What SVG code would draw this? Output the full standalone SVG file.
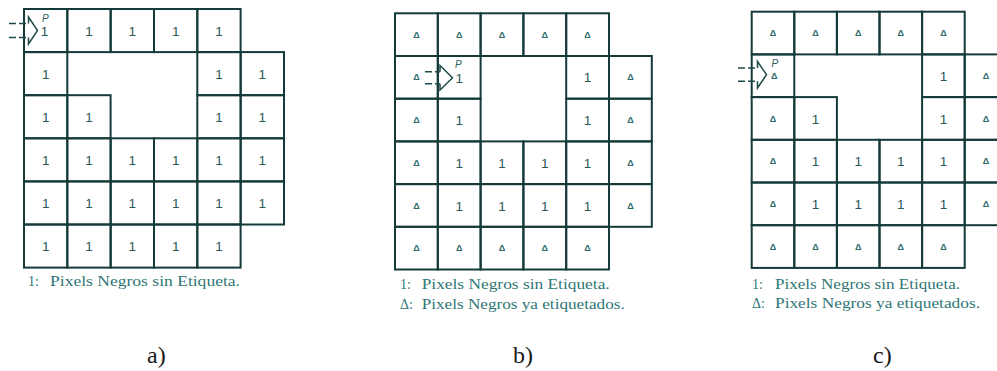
<svg xmlns="http://www.w3.org/2000/svg" width="997" height="371" viewBox="0 0 997 371">
<style>
.g rect{fill:none;stroke:#143a3a;stroke-width:2}
.n{font-family:"Liberation Sans",Arial,sans-serif;font-size:13.5px;fill:#2a5858;text-anchor:middle}
.t{font-family:"Liberation Sans","DejaVu Sans",sans-serif;font-size:9px;font-weight:bold;fill:#2e6a6a;text-anchor:middle}
.p{font-family:"Liberation Sans",Arial,sans-serif;font-size:10px;font-style:italic;fill:#2e5e5e}
.cap{font-family:"Liberation Serif","Times New Roman",serif;font-size:14px;fill:#2f7676}
.lab{font-family:"Liberation Serif","Times New Roman",serif;font-size:24px;fill:#1a1a1a}
.arr{fill:none;stroke:#1f4a4a;stroke-width:1.5}
.dash{stroke-dasharray:7 3}
</style>
<rect width="997" height="371" fill="#ffffff"/>

<!-- Panel a -->
<g id="panel-a" class="g">
<g id="a-r0c0"><rect x="24" y="9" width="43.3" height="43.1"/><text class="p" x="42" y="21.5">P</text><text class="n" x="44.5" y="36.3">1</text></g>
<g id="a-r0c1"><rect x="67.3" y="9" width="43.3" height="43.1"/><text class="n" x="89" y="35.6">1</text></g>
<g id="a-r0c2"><rect x="110.7" y="9" width="43.3" height="43.1"/><text class="n" x="132.3" y="35.6">1</text></g>
<g id="a-r0c3"><rect x="154" y="9" width="43.3" height="43.1"/><text class="n" x="175.7" y="35.6">1</text></g>
<g id="a-r0c4"><rect x="197.3" y="9" width="43.3" height="43.1"/><text class="n" x="219" y="35.6">1</text></g>
<g id="a-r1c0"><rect x="24" y="52.1" width="43.3" height="43.1"/><text class="n" x="45.7" y="78.7">1</text></g>
<g id="a-r1c4"><rect x="197.3" y="52.1" width="43.3" height="43.1"/><text class="n" x="219" y="78.7">1</text></g>
<g id="a-r1c5"><rect x="240.7" y="52.1" width="43.3" height="43.1"/><text class="n" x="262.3" y="78.7">1</text></g>
<g id="a-r2c0"><rect x="24" y="95.2" width="43.3" height="43.1"/><text class="n" x="45.7" y="121.8">1</text></g>
<g id="a-r2c1"><rect x="67.3" y="95.2" width="43.3" height="43.1"/><text class="n" x="89" y="121.8">1</text></g>
<g id="a-r2c4"><rect x="197.3" y="95.2" width="43.3" height="43.1"/><text class="n" x="219" y="121.8">1</text></g>
<g id="a-r2c5"><rect x="240.7" y="95.2" width="43.3" height="43.1"/><text class="n" x="262.3" y="121.8">1</text></g>
<g id="a-r3c0"><rect x="24" y="138.3" width="43.3" height="43.1"/><text class="n" x="45.7" y="164.9">1</text></g>
<g id="a-r3c1"><rect x="67.3" y="138.3" width="43.3" height="43.1"/><text class="n" x="89" y="164.9">1</text></g>
<g id="a-r3c2"><rect x="110.7" y="138.3" width="43.3" height="43.1"/><text class="n" x="132.3" y="164.9">1</text></g>
<g id="a-r3c3"><rect x="154" y="138.3" width="43.3" height="43.1"/><text class="n" x="175.7" y="164.9">1</text></g>
<g id="a-r3c4"><rect x="197.3" y="138.3" width="43.3" height="43.1"/><text class="n" x="219" y="164.9">1</text></g>
<g id="a-r3c5"><rect x="240.7" y="138.3" width="43.3" height="43.1"/><text class="n" x="262.3" y="164.9">1</text></g>
<g id="a-r4c0"><rect x="24" y="181.4" width="43.3" height="43.1"/><text class="n" x="45.7" y="208">1</text></g>
<g id="a-r4c1"><rect x="67.3" y="181.4" width="43.3" height="43.1"/><text class="n" x="89" y="208">1</text></g>
<g id="a-r4c2"><rect x="110.7" y="181.4" width="43.3" height="43.1"/><text class="n" x="132.3" y="208">1</text></g>
<g id="a-r4c3"><rect x="154" y="181.4" width="43.3" height="43.1"/><text class="n" x="175.7" y="208">1</text></g>
<g id="a-r4c4"><rect x="197.3" y="181.4" width="43.3" height="43.1"/><text class="n" x="219" y="208">1</text></g>
<g id="a-r4c5"><rect x="240.7" y="181.4" width="43.3" height="43.1"/><text class="n" x="262.3" y="208">1</text></g>
<g id="a-r5c0"><rect x="24" y="224.5" width="43.3" height="43.1"/><text class="n" x="45.7" y="251.1">1</text></g>
<g id="a-r5c1"><rect x="67.3" y="224.5" width="43.3" height="43.1"/><text class="n" x="89" y="251.1">1</text></g>
<g id="a-r5c2"><rect x="110.7" y="224.5" width="43.3" height="43.1"/><text class="n" x="132.3" y="251.1">1</text></g>
<g id="a-r5c3"><rect x="154" y="224.5" width="43.3" height="43.1"/><text class="n" x="175.7" y="251.1">1</text></g>
<g id="a-r5c4"><rect x="197.3" y="224.5" width="43.3" height="43.1"/><text class="n" x="219" y="251.1">1</text></g>
</g>
<text class="cap" x="28" y="285.5">1:<tspan x="50" textLength="190" lengthAdjust="spacingAndGlyphs">Pixels Negros sin Etiqueta.</tspan></text>
<text class="lab" x="147" y="363">a)</text>

<!-- Panel b -->
<g id="panel-b" class="g">
<g id="b-r0c0"><rect x="395" y="13.3" width="42.8" height="42.7"/><text class="t" x="416.4" y="37.7">Δ</text></g>
<g id="b-r0c1"><rect x="437.8" y="13.3" width="42.8" height="42.7"/><text class="t" x="459.2" y="37.7">Δ</text></g>
<g id="b-r0c2"><rect x="480.6" y="13.3" width="42.8" height="42.7"/><text class="t" x="502" y="37.7">Δ</text></g>
<g id="b-r0c3"><rect x="523.4" y="13.3" width="42.8" height="42.7"/><text class="t" x="544.8" y="37.7">Δ</text></g>
<g id="b-r0c4"><rect x="566.2" y="13.3" width="42.8" height="42.7"/><text class="t" x="587.6" y="37.7">Δ</text></g>
<g id="b-r1c0"><rect x="395" y="56" width="42.8" height="42.7"/><text class="t" x="416.4" y="80.4">Δ</text></g>
<g id="b-r1c1"><rect x="437.8" y="56" width="42.8" height="42.7"/><text class="p" x="455" y="67.5">P</text><text class="n" x="459.2" y="82.8">1</text></g>
<g id="b-r1c4"><rect x="566.2" y="56" width="42.8" height="42.7"/><text class="n" x="587.6" y="82.4">1</text></g>
<g id="b-r1c5"><rect x="609" y="56" width="42.8" height="42.7"/><text class="t" x="630.4" y="80.4">Δ</text></g>
<g id="b-r2c0"><rect x="395" y="98.7" width="42.8" height="42.7"/><text class="t" x="416.4" y="123.1">Δ</text></g>
<g id="b-r2c1"><rect x="437.8" y="98.7" width="42.8" height="42.7"/><text class="n" x="459.2" y="125.1">1</text></g>
<g id="b-r2c4"><rect x="566.2" y="98.7" width="42.8" height="42.7"/><text class="n" x="587.6" y="125.1">1</text></g>
<g id="b-r2c5"><rect x="609" y="98.7" width="42.8" height="42.7"/><text class="t" x="630.4" y="123.1">Δ</text></g>
<g id="b-r3c0"><rect x="395" y="141.4" width="42.8" height="42.7"/><text class="t" x="416.4" y="165.8">Δ</text></g>
<g id="b-r3c1"><rect x="437.8" y="141.4" width="42.8" height="42.7"/><text class="n" x="459.2" y="167.8">1</text></g>
<g id="b-r3c2"><rect x="480.6" y="141.4" width="42.8" height="42.7"/><text class="n" x="502" y="167.8">1</text></g>
<g id="b-r3c3"><rect x="523.4" y="141.4" width="42.8" height="42.7"/><text class="n" x="544.8" y="167.8">1</text></g>
<g id="b-r3c4"><rect x="566.2" y="141.4" width="42.8" height="42.7"/><text class="n" x="587.6" y="167.8">1</text></g>
<g id="b-r3c5"><rect x="609" y="141.4" width="42.8" height="42.7"/><text class="t" x="630.4" y="165.8">Δ</text></g>
<g id="b-r4c0"><rect x="395" y="184.1" width="42.8" height="42.7"/><text class="t" x="416.4" y="208.5">Δ</text></g>
<g id="b-r4c1"><rect x="437.8" y="184.1" width="42.8" height="42.7"/><text class="n" x="459.2" y="210.5">1</text></g>
<g id="b-r4c2"><rect x="480.6" y="184.1" width="42.8" height="42.7"/><text class="n" x="502" y="210.5">1</text></g>
<g id="b-r4c3"><rect x="523.4" y="184.1" width="42.8" height="42.7"/><text class="n" x="544.8" y="210.5">1</text></g>
<g id="b-r4c4"><rect x="566.2" y="184.1" width="42.8" height="42.7"/><text class="n" x="587.6" y="210.5">1</text></g>
<g id="b-r4c5"><rect x="609" y="184.1" width="42.8" height="42.7"/><text class="t" x="630.4" y="208.5">Δ</text></g>
<g id="b-r5c0"><rect x="395" y="226.8" width="42.8" height="42.7"/><text class="t" x="416.4" y="251.2">Δ</text></g>
<g id="b-r5c1"><rect x="437.8" y="226.8" width="42.8" height="42.7"/><text class="t" x="459.2" y="251.2">Δ</text></g>
<g id="b-r5c2"><rect x="480.6" y="226.8" width="42.8" height="42.7"/><text class="t" x="502" y="251.2">Δ</text></g>
<g id="b-r5c3"><rect x="523.4" y="226.8" width="42.8" height="42.7"/><text class="t" x="544.8" y="251.2">Δ</text></g>
<g id="b-r5c4"><rect x="566.2" y="226.8" width="42.8" height="42.7"/><text class="t" x="587.6" y="251.2">Δ</text></g>
</g>
<text class="cap" x="400" y="289">1:<tspan x="421.7" textLength="188" lengthAdjust="spacingAndGlyphs">Pixels Negros sin Etiqueta.</tspan></text>
<text class="cap" x="400" y="309">Δ:<tspan x="421.7" textLength="203" lengthAdjust="spacingAndGlyphs">Pixels Negros ya etiquetados.</tspan></text>
<text class="lab" x="513" y="363">b)</text>

<!-- Panel c -->
<g id="panel-c" class="g">
<g id="c-r0c0"><rect x="751.7" y="11.7" width="42.6" height="42.7"/><text class="t" x="773" y="36">Δ</text></g>
<g id="c-r0c1"><rect x="794.3" y="11.7" width="42.6" height="42.7"/><text class="t" x="815.6" y="36">Δ</text></g>
<g id="c-r0c2"><rect x="836.9" y="11.7" width="42.6" height="42.7"/><text class="t" x="858.2" y="36">Δ</text></g>
<g id="c-r0c3"><rect x="879.5" y="11.7" width="42.6" height="42.7"/><text class="t" x="900.8" y="36">Δ</text></g>
<g id="c-r0c4"><rect x="922.1" y="11.7" width="42.6" height="42.7"/><text class="t" x="943.4" y="36">Δ</text></g>
<g id="c-r1c0"><rect x="751.7" y="54.4" width="42.6" height="42.7"/><text class="p" x="771.5" y="66.7">P</text><text class="t" x="774.3" y="78.5">Δ</text></g>
<g id="c-r1c4"><rect x="922.1" y="54.4" width="42.6" height="42.7"/><text class="n" x="943.4" y="80.8">1</text></g>
<g id="c-r1c5"><rect x="964.7" y="54.4" width="42.6" height="42.7"/><text class="t" x="986" y="78.8">Δ</text></g>
<g id="c-r2c0"><rect x="751.7" y="97.1" width="42.6" height="42.7"/><text class="t" x="773" y="121.5">Δ</text></g>
<g id="c-r2c1"><rect x="794.3" y="97.1" width="42.6" height="42.7"/><text class="n" x="815.6" y="123.5">1</text></g>
<g id="c-r2c4"><rect x="922.1" y="97.1" width="42.6" height="42.7"/><text class="n" x="943.4" y="123.5">1</text></g>
<g id="c-r2c5"><rect x="964.7" y="97.1" width="42.6" height="42.7"/><text class="t" x="986" y="121.5">Δ</text></g>
<g id="c-r3c0"><rect x="751.7" y="139.8" width="42.6" height="42.7"/><text class="t" x="773" y="164.2">Δ</text></g>
<g id="c-r3c1"><rect x="794.3" y="139.8" width="42.6" height="42.7"/><text class="n" x="815.6" y="166.2">1</text></g>
<g id="c-r3c2"><rect x="836.9" y="139.8" width="42.6" height="42.7"/><text class="n" x="858.2" y="166.2">1</text></g>
<g id="c-r3c3"><rect x="879.5" y="139.8" width="42.6" height="42.7"/><text class="n" x="900.8" y="166.2">1</text></g>
<g id="c-r3c4"><rect x="922.1" y="139.8" width="42.6" height="42.7"/><text class="n" x="943.4" y="166.2">1</text></g>
<g id="c-r3c5"><rect x="964.7" y="139.8" width="42.6" height="42.7"/><text class="t" x="986" y="164.2">Δ</text></g>
<g id="c-r4c0"><rect x="751.7" y="182.5" width="42.6" height="42.7"/><text class="t" x="773" y="206.9">Δ</text></g>
<g id="c-r4c1"><rect x="794.3" y="182.5" width="42.6" height="42.7"/><text class="n" x="815.6" y="208.9">1</text></g>
<g id="c-r4c2"><rect x="836.9" y="182.5" width="42.6" height="42.7"/><text class="n" x="858.2" y="208.9">1</text></g>
<g id="c-r4c3"><rect x="879.5" y="182.5" width="42.6" height="42.7"/><text class="n" x="900.8" y="208.9">1</text></g>
<g id="c-r4c4"><rect x="922.1" y="182.5" width="42.6" height="42.7"/><text class="n" x="943.4" y="208.9">1</text></g>
<g id="c-r4c5"><rect x="964.7" y="182.5" width="42.6" height="42.7"/><text class="t" x="986" y="206.9">Δ</text></g>
<g id="c-r5c0"><rect x="751.7" y="225.2" width="42.6" height="42.7"/><text class="t" x="773" y="249.6">Δ</text></g>
<g id="c-r5c1"><rect x="794.3" y="225.2" width="42.6" height="42.7"/><text class="t" x="815.6" y="249.6">Δ</text></g>
<g id="c-r5c2"><rect x="836.9" y="225.2" width="42.6" height="42.7"/><text class="t" x="858.2" y="249.6">Δ</text></g>
<g id="c-r5c3"><rect x="879.5" y="225.2" width="42.6" height="42.7"/><text class="t" x="900.8" y="249.6">Δ</text></g>
<g id="c-r5c4"><rect x="922.1" y="225.2" width="42.6" height="42.7"/><text class="t" x="943.4" y="249.6">Δ</text></g>
</g>
<text class="cap" x="752" y="289">1:<tspan x="775" textLength="185" lengthAdjust="spacingAndGlyphs">Pixels Negros sin Etiqueta.</tspan></text>
<text class="cap" x="752" y="307.5">Δ:<tspan x="775" textLength="205" lengthAdjust="spacingAndGlyphs">Pixels Negros ya etiquetados.</tspan></text>
<text class="lab" x="873" y="363">c)</text>

<!-- Connectors: entry arrows -->
<g id="connectors">
<g id="arrow-a">
<line class="arr dash" x1="9" y1="23.5" x2="28.5" y2="23.5"/>
<line class="arr dash" x1="9" y1="37.5" x2="28.5" y2="37.5"/>
<polyline class="arr" points="28.5,23.5 28.5,17 37.5,30.5 28.5,44 28.5,37.5"/>
</g>
<g id="arrow-b">
<line class="arr dash" x1="425" y1="71.7" x2="440" y2="71.7"/>
<line class="arr dash" x1="425" y1="83.8" x2="440" y2="83.8"/>
<polyline class="arr" points="440,71.7 440,65.5 452.5,77.7 440,90 440,83.8"/>
</g>
<g id="arrow-c">
<line class="arr dash" x1="738" y1="68" x2="757.5" y2="68"/>
<line class="arr dash" x1="738" y1="81.3" x2="757.5" y2="81.3"/>
<polyline class="arr" points="757.5,68 757.5,61.5 766.5,74.7 757.5,88 757.5,81.3"/>
</g>
</g>
</svg>
